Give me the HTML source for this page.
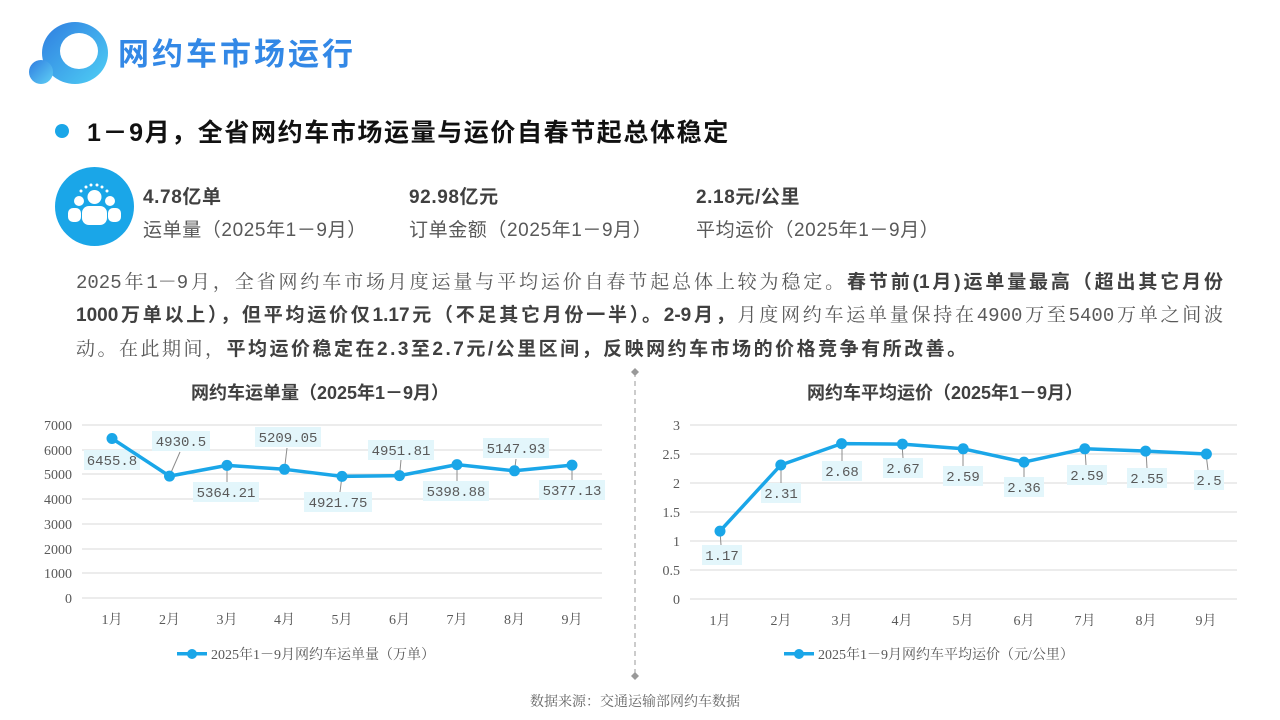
<!DOCTYPE html>
<html><head><meta charset="utf-8"><style>
*{margin:0;padding:0;box-sizing:border-box}
body{width:1280px;height:720px;background:#fff;position:relative;overflow:hidden;font-family:"Liberation Sans","Noto Sans CJK SC",sans-serif}
.a{position:absolute;white-space:nowrap}
.ser{font-family:"Liberation Mono","Noto Serif CJK SC",serif}
.p{font-size:19px;color:#595959;left:76px;width:1147px;text-align:justify;text-align-last:justify}
.p b,.b3{color:#404040;font-family:"Liberation Sans","Noto Sans CJK SC",sans-serif}
.st{font-size:19px;letter-spacing:0.6px}
</style></head><body>
<div class="a" style="left:42px;top:22px;width:66px;height:62px;border-radius:50%;background:linear-gradient(135deg,#2f7de0,#4fd0f5)"></div>
<div class="a" style="left:60px;top:33px;width:38px;height:36px;border-radius:50%;background:#fff"></div>
<div class="a" style="left:29px;top:60px;width:24px;height:24px;border-radius:50%;background:linear-gradient(135deg,#2f7de0,#5fd0f5)"></div>
<div class="a" style="left:118px;top:29px;font-size:31px;font-weight:bold;color:#3388e6;letter-spacing:3px">网约车市场运行</div>
<div class="a" style="left:55px;top:124px;width:14px;height:14px;border-radius:50%;background:#1aa6e8"></div>
<div class="a" style="left:87px;top:113px;font-size:25px;font-weight:bold;color:#111;letter-spacing:1.6px">1－9月，全省网约车市场运量与运价自春节起总体稳定</div>
<div class="a" style="left:55px;top:167px;width:79px;height:79px;border-radius:50%;background:#1aa6e8"></div>
<svg class="a" style="left:55px;top:167px" width="79" height="79" viewBox="0 0 79 79" fill="#fff">
<circle cx="24" cy="34" r="5"/><circle cx="55" cy="34" r="5"/><circle cx="39.5" cy="30" r="7"/>
<rect x="13" y="41" width="13" height="14" rx="5"/><rect x="53" y="41" width="13" height="14" rx="5"/>
<rect x="27" y="39" width="25" height="19" rx="7"/>
<circle cx="31" cy="20" r="1.5"/><circle cx="36" cy="18" r="1.5"/><circle cx="42" cy="18" r="1.5"/><circle cx="47" cy="20" r="1.5"/><circle cx="26" cy="24" r="1.5"/><circle cx="52" cy="24" r="1.5"/>
</svg>
<div class="a st" style="left:143px;top:182px;font-weight:bold;color:#404040">4.78亿单</div>
<div class="a st" style="left:143px;top:215px;color:#595959">运单量（2025年1－9月）</div>
<div class="a st" style="left:409px;top:182px;font-weight:bold;color:#404040">92.98亿元</div>
<div class="a st" style="left:409px;top:215px;color:#595959">订单金额（2025年1－9月）</div>
<div class="a st" style="left:696px;top:182px;font-weight:bold;color:#404040">2.18元/公里</div>
<div class="a st" style="left:696px;top:215px;color:#595959">平均运价（2025年1－9月）</div>
<div class="a p ser" style="top:267px">2025年1－9月，全省网约车市场月度运量与平均运价自春节起总体上较为稳定。<b>春节前(1月)运单量最高（超出其它月份</b></div>
<div class="a p ser" style="top:300px"><b>1000万单以上），但平均运价仅1.17元（不足其它月份一半）。2-9月，</b>月度网约车运单量保持在4900万至5400万单之间波</div>
<div class="a ser" style="left:76px;top:334px;font-size:19px;color:#595959;letter-spacing:2.5px">动。在此期间，<b class="b3">平均运价稳定在2.3至2.7元/公里区间，反映网约车市场的价格竞争有所改善。</b></div>
<svg class="a" style="left:0;top:0" width="1280" height="720" font-family="Liberation Serif,Noto Serif CJK SC,serif">
<line x1="635" y1="372" x2="635" y2="676" stroke="#999" stroke-dasharray="5,4"/>
<path d="M631 372l4-4 4 4-4 4z M631 676l4-4 4 4-4 4z" fill="#999"/>
<text x="320" y="399" text-anchor="middle" font-size="18" font-weight="bold" fill="#404040" font-family="Liberation Sans,Noto Sans CJK SC,sans-serif">网约车运单量（2025年1－9月）</text>
<text x="945" y="399" text-anchor="middle" font-size="18" font-weight="bold" fill="#404040" font-family="Liberation Sans,Noto Sans CJK SC,sans-serif">网约车平均运价（2025年1－9月）</text>
<g stroke="#d9d9d9" stroke-width="1">
<line x1="82" y1="425" x2="602" y2="425"/><line x1="82" y1="450" x2="602" y2="450"/><line x1="82" y1="474" x2="602" y2="474"/><line x1="82" y1="499" x2="602" y2="499"/><line x1="82" y1="524" x2="602" y2="524"/><line x1="82" y1="549" x2="602" y2="549"/><line x1="82" y1="573" x2="602" y2="573"/><line x1="82" y1="598" x2="602" y2="598"/>
<line x1="690" y1="425" x2="1237" y2="425"/><line x1="690" y1="454" x2="1237" y2="454"/><line x1="690" y1="483" x2="1237" y2="483"/><line x1="690" y1="512" x2="1237" y2="512"/><line x1="690" y1="541" x2="1237" y2="541"/><line x1="690" y1="570" x2="1237" y2="570"/><line x1="690" y1="599" x2="1237" y2="599"/>
</g>
<g font-size="14" fill="#595959" text-anchor="end">
<text x="72" y="430">7000</text><text x="72" y="455">6000</text><text x="72" y="479">5000</text><text x="72" y="504">4000</text><text x="72" y="529">3000</text><text x="72" y="554">2000</text><text x="72" y="578">1000</text><text x="72" y="603">0</text>
<text x="680" y="430">3</text><text x="680" y="459">2.5</text><text x="680" y="488">2</text><text x="680" y="517">1.5</text><text x="680" y="546">1</text><text x="680" y="575">0.5</text><text x="680" y="604">0</text>
</g>
<g font-size="14" fill="#595959" text-anchor="middle">
<text x="112" y="624">1月</text><text x="169.5" y="624">2月</text><text x="227" y="624">3月</text><text x="284.5" y="624">4月</text><text x="342" y="624">5月</text><text x="399.5" y="624">6月</text><text x="457" y="624">7月</text><text x="514.5" y="624">8月</text><text x="572" y="624">9月</text>
<text x="720" y="625">1月</text><text x="781" y="625">2月</text><text x="842" y="625">3月</text><text x="902" y="625">4月</text><text x="963" y="625">5月</text><text x="1024" y="625">6月</text><text x="1085" y="625">7月</text><text x="1146" y="625">8月</text><text x="1206" y="625">9月</text>
</g>
<g stroke="#8c8c8c" stroke-width="1">
<line x1="169.5" y1="476" x2="180" y2="452"/><line x1="227" y1="465" x2="227" y2="482"/><line x1="284.5" y1="469" x2="287" y2="448"/><line x1="342" y1="476" x2="340" y2="492"/><line x1="399.5" y1="476" x2="401" y2="460"/><line x1="457" y1="465" x2="457" y2="481"/><line x1="514.5" y1="471" x2="516" y2="459"/><line x1="572" y1="465" x2="572" y2="480"/>
<line x1="720" y1="531" x2="721" y2="545"/><line x1="781" y1="465" x2="781" y2="483"/><line x1="842" y1="444" x2="842" y2="461"/><line x1="902" y1="444" x2="903" y2="458"/><line x1="963" y1="449" x2="963" y2="466"/><line x1="1024" y1="462" x2="1024" y2="477"/><line x1="1085" y1="449" x2="1086" y2="465"/><line x1="1146" y1="451" x2="1147" y2="468"/><line x1="1206" y1="454" x2="1208" y2="470"/>
</g>
<g fill="#e3f6fb">
<rect x="84" y="450" width="56" height="20"/><rect x="152" y="431" width="58" height="20"/><rect x="193" y="482" width="66" height="20"/><rect x="255" y="427" width="66" height="20"/><rect x="304" y="492" width="68" height="20"/><rect x="368" y="440" width="66" height="20"/><rect x="423" y="481" width="66" height="20"/><rect x="483" y="438" width="66" height="20"/><rect x="539" y="480" width="66" height="20"/>
<rect x="702" y="545" width="40" height="20"/><rect x="761" y="483" width="40" height="20"/><rect x="822" y="461" width="40" height="20"/><rect x="883" y="458" width="40" height="20"/><rect x="943" y="466" width="40" height="20"/><rect x="1004" y="477" width="40" height="20"/><rect x="1067" y="465" width="40" height="20"/><rect x="1127" y="468" width="40" height="20"/><rect x="1194" y="470" width="30" height="20"/>
</g>
<g font-size="14" fill="#595959" text-anchor="middle" font-family="Liberation Mono,monospace">
<text x="112" y="465">6455.8</text><text x="181" y="446">4930.5</text><text x="226" y="497">5364.21</text><text x="288" y="442">5209.05</text><text x="338" y="507">4921.75</text><text x="401" y="455">4951.81</text><text x="456" y="496">5398.88</text><text x="516" y="453">5147.93</text><text x="572" y="495">5377.13</text>
<text x="722" y="560">1.17</text><text x="781" y="498">2.31</text><text x="842" y="476">2.68</text><text x="903" y="473">2.67</text><text x="963" y="481">2.59</text><text x="1024" y="492">2.36</text><text x="1087" y="480">2.59</text><text x="1147" y="483">2.55</text><text x="1209" y="485">2.5</text>
</g>
<g stroke="#1aa6e8" stroke-width="3.5" fill="none" stroke-linejoin="round">
<polyline points="112,438.5 169.5,476.1 227,465.4 284.5,469.3 342,476.4 399.5,475.6 457,464.6 514.5,470.8 572,465.1"/>
<polyline points="720,531.1 780.8,465 841.6,443.6 902.4,444.1 963.2,448.8 1024,462.1 1084.8,448.8 1145.6,451.1 1206.4,454"/>
</g>
<g fill="#1aa6e8">
<circle cx="112" cy="438.5" r="5.5"/><circle cx="169.5" cy="476.1" r="5.5"/><circle cx="227" cy="465.4" r="5.5"/><circle cx="284.5" cy="469.3" r="5.5"/><circle cx="342" cy="476.4" r="5.5"/><circle cx="399.5" cy="475.6" r="5.5"/><circle cx="457" cy="464.6" r="5.5"/><circle cx="514.5" cy="470.8" r="5.5"/><circle cx="572" cy="465.1" r="5.5"/>
<circle cx="720" cy="531.1" r="5.5"/><circle cx="780.8" cy="465" r="5.5"/><circle cx="841.6" cy="443.6" r="5.5"/><circle cx="902.4" cy="444.1" r="5.5"/><circle cx="963.2" cy="448.8" r="5.5"/><circle cx="1024" cy="462.1" r="5.5"/><circle cx="1084.8" cy="448.8" r="5.5"/><circle cx="1145.6" cy="451.1" r="5.5"/><circle cx="1206.4" cy="454" r="5.5"/>
<rect x="177" y="652" width="30" height="3.5"/><circle cx="192" cy="654" r="5"/>
<rect x="784" y="652" width="30" height="3.5"/><circle cx="799" cy="654" r="5"/>
</g>
<text x="211" y="659" font-size="14" fill="#595959">2025年1－9月网约车运单量（万单）</text>
<text x="818" y="659" font-size="14" fill="#595959">2025年1－9月网约车平均运价（元/公里）</text>
<text x="635" y="706" font-size="14" fill="#666" text-anchor="middle">数据来源：交通运输部网约车数据</text>
</svg>
</body></html>
